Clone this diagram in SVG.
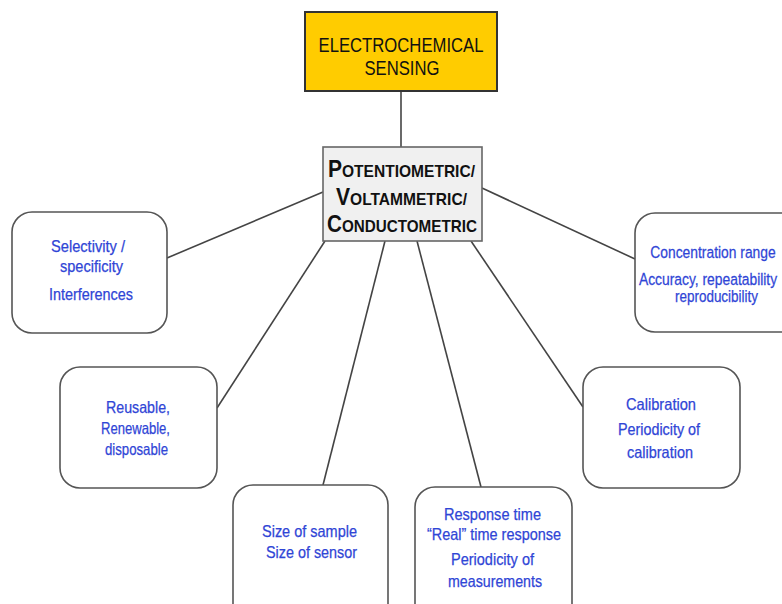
<svg xmlns="http://www.w3.org/2000/svg" width="782" height="604" viewBox="0 0 782 604">
<style>
.box{fill:#fff;stroke:#555;stroke-width:1.6}
.t{font-family:"Liberation Sans",Arial,sans-serif;font-size:16.5px;fill:#2f45d6;text-anchor:middle;stroke:#2f45d6;stroke-width:0.25}
.k{font-family:"Liberation Sans",Arial,sans-serif;fill:#111;text-anchor:middle}
.c{stroke:#444;stroke-width:1.6;fill:none}
</style>
<rect width="782" height="604" fill="#fff"/>
<g id="connectors">
<line class="c" x1="401" y1="91" x2="401" y2="147"/>
<line class="c" x1="167" y1="258" x2="323" y2="192"/>
<line class="c" x1="482" y1="188" x2="635" y2="259"/>
<line class="c" x1="325" y1="241" x2="217" y2="408"/>
<line class="c" x1="385" y1="241" x2="323" y2="485"/>
<line class="c" x1="417" y1="241" x2="481" y2="487"/>
<line class="c" x1="471" y1="241" x2="583" y2="407"/>
</g>
<g id="root">
<rect x="305" y="12" width="192" height="79" fill="#ffcc00" stroke="#333" stroke-width="2"/>
<text class="k" x="401" y="52" font-size="21" textLength="165" lengthAdjust="spacingAndGlyphs">ELECTROCHEMICAL</text>
<text class="k" x="402" y="75" font-size="21" textLength="75" lengthAdjust="spacingAndGlyphs">SENSING</text>
</g>
<g id="methods">
<rect x="323" y="147" width="159" height="94" fill="#f0f0f0" stroke="#666" stroke-width="1.6"/>
<text class="k" x="401.5" y="177" font-weight="bold" font-size="17" textLength="147" lengthAdjust="spacingAndGlyphs"><tspan font-size="23">P</tspan>OTENTIOMETRIC/</text>
<text class="k" x="401.5" y="205" font-weight="bold" font-size="17" textLength="131" lengthAdjust="spacingAndGlyphs"><tspan font-size="23">V</tspan>OLTAMMETRIC/</text>
<text class="k" x="402" y="232" font-weight="bold" font-size="17" textLength="150" lengthAdjust="spacingAndGlyphs"><tspan font-size="23">C</tspan>ONDUCTOMETRIC</text>
</g>
<g id="selectivity">
<rect class="box" x="12" y="212" width="155" height="121" rx="20"/>
<text class="t" x="88" y="252" textLength="74" lengthAdjust="spacingAndGlyphs">Selectivity /</text>
<text class="t" x="91.5" y="272" textLength="63" lengthAdjust="spacingAndGlyphs">specificity</text>
<text class="t" x="91" y="300" textLength="84" lengthAdjust="spacingAndGlyphs">Interferences</text>
</g>
<g id="concentration">
<rect class="box" x="635" y="213" width="170" height="119" rx="20"/>
<g transform="scale(0.84 1)">
<text class="t" x="848.8" y="258">Concentration range</text>
<text class="t" x="842.9" y="285">Accuracy, repeatability</text>
</g>
<text class="t" x="716.5" y="302" textLength="83" lengthAdjust="spacingAndGlyphs">reproducibility</text>
</g>
<g id="reusable">
<rect class="box" x="60" y="367" width="157" height="121" rx="20"/>
<text class="t" x="138" y="413" textLength="64" lengthAdjust="spacingAndGlyphs">Reusable,</text>
<text class="t" x="135.5" y="434" textLength="69" lengthAdjust="spacingAndGlyphs">Renewable,</text>
<text class="t" x="136.5" y="455" textLength="63" lengthAdjust="spacingAndGlyphs">disposable</text>
</g>
<g id="calibration">
<rect class="box" x="583" y="367" width="157" height="121" rx="20"/>
<text class="t" x="661" y="410" textLength="70" lengthAdjust="spacingAndGlyphs">Calibration</text>
<text class="t" x="659" y="435" textLength="82" lengthAdjust="spacingAndGlyphs">Periodicity of</text>
<text class="t" x="660" y="458" textLength="66" lengthAdjust="spacingAndGlyphs">calibration</text>
</g>
<g id="size">
<rect class="box" x="233" y="485" width="155" height="140" rx="20"/>
<text class="t" x="309.5" y="537" textLength="95" lengthAdjust="spacingAndGlyphs">Size of sample</text>
<text class="t" x="311.5" y="558" textLength="91" lengthAdjust="spacingAndGlyphs">Size of sensor</text>
</g>
<g id="response">
<rect class="box" x="415" y="487" width="157" height="140" rx="20"/>
<text class="t" x="492.5" y="520" textLength="97" lengthAdjust="spacingAndGlyphs">Response time</text>
<text class="t" x="494" y="540" textLength="134" lengthAdjust="spacingAndGlyphs">“Real” time response</text>
<text class="t" x="492.5" y="565" textLength="83" lengthAdjust="spacingAndGlyphs">Periodicity of</text>
<text class="t" x="495" y="587" textLength="94" lengthAdjust="spacingAndGlyphs">measurements</text>
</g>
</svg>
